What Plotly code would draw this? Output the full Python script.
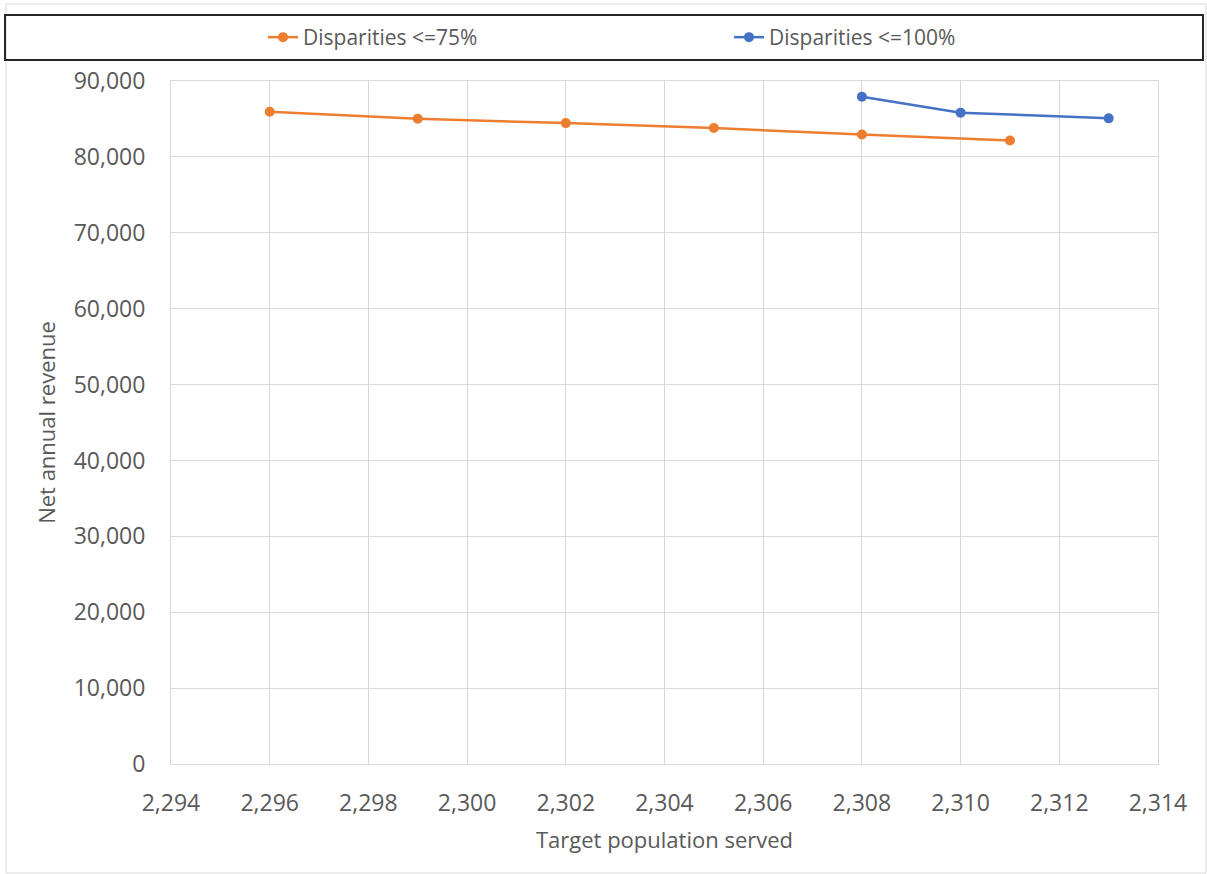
import plotly.graph_objects as go

# Series data
pop_75 = [2296, 2299, 2302, 2305, 2308, 2311]
rev_75 = [85950, 85030, 84450, 83800, 82950, 82150]

pop_100 = [2308, 2310, 2313]
rev_100 = [87930, 85830, 85080]

series_names = ["Disparities <=75%", "Disparities <=100%"]
x_title = "Target population served"
y_title = "Net annual revenue"

ORANGE = "#ED7D31"
BLUE = "#4472C4"
TEXT = "#595959"
GRID = "#D9D9D9"
FONT = "Open Sans"

W, H = 1207, 874
L, R, T, B = 171, 1158, 81, 764  # plot area in pixels


def px(x):
    return (x - L) / (R - L)


def py(y):
    return (B - y) / (B - T)


fig = go.Figure()
fig.add_trace(go.Scatter(
    x=pop_75, y=rev_75, name=series_names[0], mode="lines+markers",
    line=dict(color=ORANGE, width=2.5), marker=dict(color=ORANGE, size=10),
))
fig.add_trace(go.Scatter(
    x=pop_100, y=rev_100, name=series_names[1], mode="lines+markers",
    line=dict(color=BLUE, width=2.5), marker=dict(color=BLUE, size=10),
))

axis_common = dict(
    showgrid=True, gridcolor=GRID, gridwidth=1,
    showline=True, linecolor=GRID, linewidth=1, mirror=True,
    zeroline=False, ticks="",
    tickfont=dict(family=FONT, size=23, color=TEXT),
    tickformat=",",
)

fig.update_xaxes(
    range=[2294, 2314], dtick=2, tick0=2294,
    title=dict(text=x_title, font=dict(family=FONT, size=22, color=TEXT), standoff=16),
    ticklabelstandoff=18,
    **axis_common,
)
fig.update_yaxes(
    range=[0, 90000], dtick=10000,
    title=dict(text=y_title, font=dict(family=FONT, size=22, color=TEXT), standoff=11),
    ticklabelstandoff=20,
    **axis_common,
)

shapes = [
    # chart frame
    dict(type="rect", xref="paper", yref="paper",
         x0=px(6), x1=px(1206), y0=py(873), y1=py(4),
         line=dict(color="#D9D9D9", width=1), fillcolor="rgba(0,0,0,0)", layer="below"),
    # legend box
    dict(type="rect", xref="paper", yref="paper",
         x0=px(5), x1=px(1203), y0=py(60), y1=py(15),
         line=dict(color="#262626", width=2), fillcolor="rgba(0,0,0,0)"),
]

fig.update_layout(
    width=W, height=H,
    margin=dict(l=L, r=W - R, t=T, b=H - B, pad=0),
    paper_bgcolor="white", plot_bgcolor="white",
    showlegend=True,
    legend=dict(
        orientation="h", x=px(263), xanchor="left", y=py(37.5), yanchor="middle",
        font=dict(family=FONT, size=21, color=TEXT),
        entrywidth=421, entrywidthmode="pixels",
        bgcolor="rgba(0,0,0,0)", borderwidth=0, itemwidth=30,
    ),
    shapes=shapes,
)

fig.write_html("out.html")
